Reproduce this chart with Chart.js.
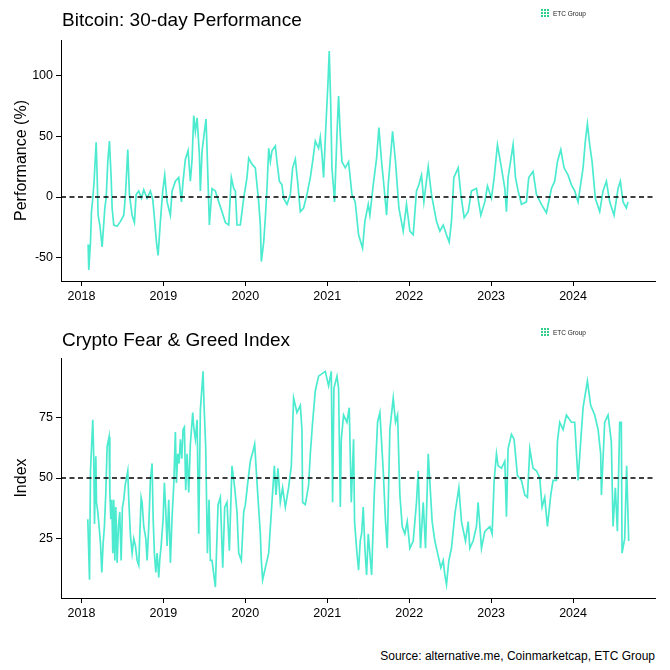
<!DOCTYPE html>
<html>
<head>
<meta charset="utf-8">
<script src="https://cdn.jsdelivr.net/npm/chart.js@4"></script>
<style>
  body { margin: 0; background: #fff; font-family: "Liberation Sans", Arial, sans-serif; }
  #page { position: relative; width: 670px; height: 670px; overflow: hidden; }
  canvas { position: absolute; left: 0; }
  .title { position: absolute; left: 62px; font-size: 19px; color: #000; white-space: nowrap; }
  .logo { position: absolute; left: 541px; font-size: 6.5px; color: #222; white-space: nowrap; }
  .logo b { display: inline-block; width: 2px; height: 9px; margin-right: 1px; vertical-align: middle;
            background: repeating-linear-gradient(#2fcf8a 0 2px, transparent 2px 3px); }
  .logo span { vertical-align: middle; margin-left: 3px; }
  #source { position: absolute; right: 15px; top: 649px; font-size: 12px; color: #000; }
</style>
</head>
<body>
<div id="page">
  <canvas id="perf" width="670" height="310" style="top:0"></canvas>
  <canvas id="fng" width="670" height="310" style="top:320px"></canvas>
  <div class="title" style="top:9px">Bitcoin: 30-day Performance</div>
  <div class="title" style="top:329px">Crypto Fear &amp; Greed Index</div>
  <div class="logo" style="top:9px"><b></b><b></b><b></b><span>ETC Group</span></div>
  <div class="logo" style="top:328px"><b></b><b></b><b></b><span>ETC Group</span></div>
  <div id="source">Source: alternative.me, Coinmarketcap, ETC Group</div>
</div>
<script>
// dates as decimal years
const perfDates = [2018.081,2018.089,2018.110,2018.122,2018.138,2018.154,2018.179,2018.191,2018.203,2018.224,2018.252,2018.285,2018.301,2018.321,2018.341,2018.362,2018.374,2018.394,2018.435,2018.476,2018.516,2018.537,2018.565,2018.585,2018.618,2018.646,2018.667,2018.699,2018.732,2018.760,2018.801,2018.841,2018.870,2018.894,2018.915,2018.935,2018.963,2018.992,2019.016,2019.045,2019.085,2019.106,2019.146,2019.187,2019.220,2019.240,2019.268,2019.301,2019.329,2019.350,2019.370,2019.390,2019.411,2019.439,2019.451,2019.472,2019.492,2019.520,2019.533,2019.561,2019.593,2019.634,2019.675,2019.715,2019.756,2019.797,2019.829,2019.858,2019.878,2019.898,2019.939,2019.980,2020.020,2020.041,2020.081,2020.122,2020.142,2020.163,2020.183,2020.195,2020.224,2020.244,2020.264,2020.285,2020.305,2020.325,2020.366,2020.386,2020.415,2020.447,2020.467,2020.508,2020.549,2020.577,2020.610,2020.642,2020.671,2020.711,2020.752,2020.793,2020.821,2020.854,2020.894,2020.915,2020.935,2020.955,2020.984,2021.008,2021.024,2021.041,2021.057,2021.089,2021.118,2021.138,2021.159,2021.179,2021.220,2021.260,2021.301,2021.341,2021.382,2021.431,2021.459,2021.500,2021.520,2021.561,2021.602,2021.630,2021.663,2021.695,2021.724,2021.744,2021.797,2021.833,2021.874,2021.927,2021.967,2022.008,2022.049,2022.089,2022.118,2022.150,2022.179,2022.232,2022.272,2022.333,2022.374,2022.415,2022.455,2022.488,2022.516,2022.545,2022.598,2022.630,2022.671,2022.720,2022.760,2022.821,2022.874,2022.923,2022.955,2023.004,2023.037,2023.077,2023.126,2023.167,2023.187,2023.207,2023.268,2023.297,2023.329,2023.370,2023.431,2023.459,2023.512,2023.553,2023.614,2023.675,2023.736,2023.776,2023.809,2023.850,2023.890,2023.939,2023.980,2024.020,2024.061,2024.122,2024.150,2024.175,2024.203,2024.232,2024.272,2024.325,2024.366,2024.407,2024.447,2024.500,2024.549,2024.577,2024.610,2024.650,2024.671];
const perfValues = [-39,-60,-37,-12,-1,13,45,18,-15,-23,-41,-9,-1,29,46,16,-9,-23,-24,-20,-15,2,39,2,-15,-21,2,5,-1,6,-1,5,-2,-20,-37,-48,-20,5,18,-4,-15,5,13,16,-4,13,31,38,13,31,67,54,65,35,5,38,49,64,38,-23,7,5,-4,-12,-21,-23,16,7,5,-23,-23,-1,16,32,27,24,10,-4,-23,-53,-37,-17,7,40,29,38,42,29,13,10,-1,-6,2,24,31,10,-12,-9,2,16,29,46,40,49,35,16,60,93,120,79,24,-4,51,83,51,29,24,29,2,-4,-31,-42,-20,-6,-15,10,32,57,29,7,-15,10,54,29,-9,-28,-6,-28,-31,5,10,18,-4,25,2,-20,-28,-23,-31,-37,-20,16,24,2,-17,-12,5,7,-15,-4,9,-1,16,43,24,7,-12,16,43,16,5,-6,-4,16,21,2,-6,-13,7,13,29,39,24,18,10,5,-4,24,46,60,43,29,-1,-12,5,13,-4,-15,7,13,-4,-9,-4];

const fngDates = [2018.077,2018.098,2018.110,2018.138,2018.150,2018.159,2018.175,2018.183,2018.199,2018.215,2018.232,2018.248,2018.264,2018.280,2018.297,2018.313,2018.337,2018.346,2018.358,2018.370,2018.382,2018.394,2018.407,2018.419,2018.435,2018.451,2018.467,2018.484,2018.500,2018.516,2018.533,2018.565,2018.577,2018.598,2018.618,2018.638,2018.659,2018.679,2018.699,2018.728,2018.740,2018.760,2018.785,2018.801,2018.821,2018.841,2018.862,2018.874,2018.890,2018.907,2018.923,2018.943,2018.955,2018.972,2018.996,2019.012,2019.028,2019.045,2019.065,2019.085,2019.106,2019.126,2019.146,2019.159,2019.175,2019.191,2019.207,2019.224,2019.240,2019.256,2019.272,2019.289,2019.309,2019.329,2019.358,2019.370,2019.390,2019.411,2019.431,2019.451,2019.484,2019.496,2019.516,2019.537,2019.557,2019.573,2019.593,2019.634,2019.667,2019.695,2019.724,2019.748,2019.776,2019.805,2019.837,2019.870,2019.898,2019.919,2019.951,2019.980,2020.000,2020.033,2020.061,2020.093,2020.114,2020.130,2020.154,2020.183,2020.195,2020.211,2020.244,2020.285,2020.325,2020.354,2020.374,2020.398,2020.427,2020.455,2020.488,2020.528,2020.561,2020.589,2020.630,2020.671,2020.691,2020.699,2020.732,2020.772,2020.793,2020.821,2020.854,2020.894,2020.976,2021.016,2021.049,2021.065,2021.081,2021.118,2021.138,2021.159,2021.171,2021.199,2021.240,2021.268,2021.293,2021.321,2021.333,2021.362,2021.382,2021.402,2021.419,2021.439,2021.459,2021.480,2021.500,2021.541,2021.573,2021.614,2021.642,2021.683,2021.711,2021.732,2021.764,2021.805,2021.833,2021.858,2021.886,2021.915,2021.947,2021.976,2022.008,2022.049,2022.089,2022.110,2022.138,2022.171,2022.199,2022.232,2022.280,2022.313,2022.346,2022.386,2022.415,2022.435,2022.455,2022.484,2022.516,2022.557,2022.606,2022.638,2022.687,2022.720,2022.740,2022.780,2022.821,2022.841,2022.882,2022.923,2022.984,2023.012,2023.037,2023.065,2023.085,2023.126,2023.167,2023.187,2023.207,2023.248,2023.280,2023.321,2023.370,2023.411,2023.443,2023.472,2023.512,2023.553,2023.593,2023.622,2023.654,2023.687,2023.728,2023.756,2023.797,2023.809,2023.837,2023.878,2023.919,2023.980,2024.020,2024.061,2024.093,2024.122,2024.175,2024.215,2024.264,2024.305,2024.337,2024.346,2024.386,2024.427,2024.467,2024.488,2024.516,2024.541,2024.569,2024.589,2024.598,2024.630,2024.654,2024.679];
const fngValues = [33,8,53,74,58,31,59,40,36,30,23,11,23,30,44,63,67,44,33,41,19,41,16,38,15,30,36,16,38,41,47,53,41,26,19,25,22,16,14,42,40,30,25,16,30,49,56,34,19,11,19,9,16,22,33,48,37,22,41,15,34,47,69,48,60,56,66,58,70,71,45,60,44,64,77,71,66,74,27,78,94,80,63,19,41,16,16,5,39,42,13,38,40,20,55,46,36,19,16,36,39,49,57,61,64,55,42,27,16,8,13,19,40,55,43,54,40,46,38,46,55,83,77,80,70,40,39,47,60,73,86,92,94,88,94,40,87,92,87,38,66,76,73,79,40,66,32,19,12,24,27,38,21,10,27,10,43,73,77,53,32,21,70,83,73,76,43,30,27,32,21,24,40,53,21,40,21,60,32,24,19,13,16,10,6,16,21,35,46,32,24,32,21,24,30,40,21,28,30,27,49,60,55,54,57,34,62,68,66,51,49,43,42,62,54,53,50,38,42,30,43,49,49,65,73,70,76,73,73,49,65,79,90,80,76,70,60,43,73,76,65,30,46,28,73,73,19,25,55,24];

const tickYears = [2018,2019,2020,2021,2022,2023,2024];
const perfTicks = [-50,0,50,100];
const fngTicks = [25,50,75];
const perfRef = 0;
const fngRef = 50;

const lineColor = '#4CEBD0';
const xMin = 2017.75, xMax = 2025.0;
const tickFont = { family: '"Liberation Sans", Arial, sans-serif', size: 12.5 };

function makeChart(id, dates, values, ref, yTicks, yMin, yMax, yTitle, pad, xHeight) {
  const points = dates.map((d, i) => ({ x: d, y: values[i] }));
  return new Chart(document.getElementById(id), {
    type: 'line',
    data: {
      datasets: [
        { data: [{ x: xMin, y: ref }, { x: xMax, y: ref }], borderColor: '#000', borderWidth: 1.5,
          borderDash: [5, 3.5], pointRadius: 0, order: 0 },
        { data: points, borderColor: lineColor, borderWidth: 1.7, pointRadius: 0, tension: 0, order: 1 }
      ]
    },
    options: {
      responsive: false,
      animation: false,
      layout: { padding: pad },
      plugins: { legend: { display: false }, tooltip: { enabled: false } },
      scales: {
        x: {
          type: 'linear', min: xMin, max: xMax,
          afterBuildTicks: s => { s.ticks = tickYears.map(v => ({ value: v })); },
          afterFit: s => { s.height = xHeight; },
          grid: { drawOnChartArea: false, drawTicks: true, tickLength: 5, color: '#000' },
          border: { display: true, color: '#000', width: 1 },
          ticks: { color: '#000', font: tickFont, padding: 3, callback: v => String(v), maxRotation: 0 }
        },
        y: {
          min: yMin, max: yMax,
          afterBuildTicks: s => { s.ticks = yTicks.map(v => ({ value: v })); },
          afterFit: s => { s.width = 61; },
          grid: { drawOnChartArea: false, drawTicks: true, tickLength: 5, color: '#000' },
          border: { display: true, color: '#000', width: 1 },
          ticks: { color: '#000', font: tickFont, padding: 3 },
          title: { display: true, text: yTitle, color: '#000', padding: { top: 12, bottom: 0 },
                   font: { family: '"Liberation Sans", Arial, sans-serif', size: 16 } }
        }
      }
    }
  });
}

makeChart('perf', perfDates, perfValues, perfRef, perfTicks, -69, 129, 'Performance (%)',
          { left: 0, right: 15, top: 40, bottom: 0 }, 29);
makeChart('fng', fngDates, fngValues, fngRef, fngTicks, 0.5, 99.5, 'Index',
          { left: 0, right: 15, top: 38, bottom: 0 }, 32);
</script>
</body>
</html>
